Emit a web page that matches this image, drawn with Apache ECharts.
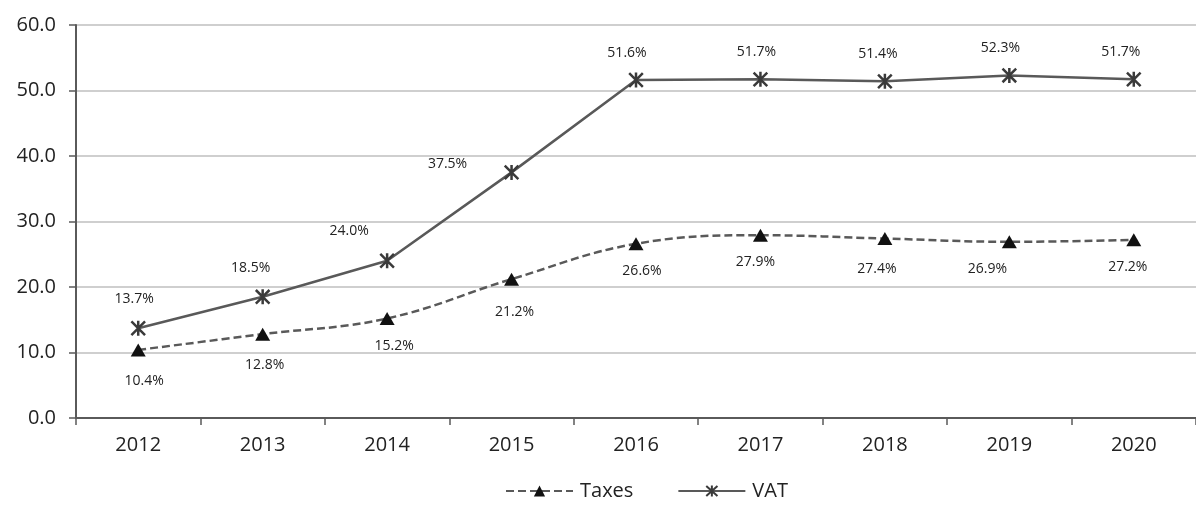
<!DOCTYPE html>
<html><head><meta charset="utf-8">
<script src="https://cdn.jsdelivr.net/npm/echarts@6/dist/echarts.min.js"></script>
<style>html,body{margin:0;padding:0;background:#fff}#c{width:1196px;height:506px}</style>
</head><body><div id="c"></div>
<script>
var categories = ['2012','2013','2014','2015','2016','2017','2018','2019','2020'];
var taxes = [10.4, 12.8, 15.2, 21.2, 26.6, 27.9, 27.4, 26.9, 27.2];
var vat = [13.7, 18.5, 24.0, 37.5, 51.6, 51.7, 51.4, 52.3, 51.7];
var yTicks = [0, 10, 20, 30, 40, 50, 60];

// label offsets from the marker centre (style only)
var taxesLabelOffset = [[6,31],[2,31],[7,28],[3,33],[6,27],[-5,27],[-8,30],[-22,27],[-6,27]];
var vatLabelOffset = [[-4,-29],[-12,-29],[-38,-30],[-64,-8],[-9,-27],[-4,-27],[-7,-27],[-9,-27],[-13,-27]];

var FONT = '"Open Sans", sans-serif';
var starPath = 'path://M0,0L10,10M10,0L0,10M5,-0.5L5,10.5';

function mk(vals, offs) {
  return vals.map(function (v, i) {
    return { value: v, label: { offset: offs[i] } };
  });
}

var chart = echarts.init(document.getElementById('c'));
chart.setOption({
  backgroundColor: '#fff',
  animation: false,
  grid: { left: 76, width: 1132, top: 25, height: 393 },
  xAxis: {
    type: 'category', data: categories, boundaryGap: true,
    axisLine: { lineStyle: { color: '#5a5a5a', width: 2 } },
    axisTick: { show: true, length: 7, lineStyle: { color: '#5a5a5a', width: 1.5 } },
    axisLabel: { color: '#222', fontSize: 20, fontFamily: FONT, margin: 17 }
  },
  yAxis: {
    type: 'value', min: yTicks[0], max: yTicks[yTicks.length - 1], interval: 10,
    axisLine: { show: true, lineStyle: { color: '#5a5a5a', width: 2 } },
    axisTick: { show: true, length: 7, inside: false, lineStyle: { color: '#5a5a5a', width: 1.5 } },
    splitLine: { lineStyle: { color: '#cfcfcf', width: 2 } },
    axisLabel: { color: '#222', fontSize: 20, fontFamily: FONT, margin: 20,
      formatter: function (v) { return v.toFixed(1); } }
  },
  legend: {
    bottom: 0, left: 500, itemWidth: 67, itemHeight: 14, itemGap: 44,
    textStyle: { color: '#222', fontSize: 20, fontFamily: FONT, padding: [0, 0, 0, 2] },
    data: ['Taxes', 'VAT']
  },
  series: [
    {
      name: 'Taxes', type: 'line', smooth: 0.4,
      data: mk(taxes, taxesLabelOffset),
      symbol: 'triangle', symbolSize: [15, 13],
      itemStyle: { color: '#111' },
      lineStyle: { color: '#595959', width: 2.5, type: [8, 4] },
      label: { show: true, position: 'inside', color: '#222', fontSize: 14, fontFamily: FONT,
        formatter: function (p) { return p.value.toFixed(1) + '%'; } }
    },
    {
      name: 'VAT', type: 'line', smooth: false,
      data: mk(vat, vatLabelOffset),
      symbol: starPath, symbolSize: 15, symbolKeepAspect: true,
      itemStyle: { color: 'none', borderColor: '#3a3a3a', borderWidth: 2.5 },
      lineStyle: { color: '#595959', width: 2.5 },
      label: { show: true, position: 'inside', color: '#222', fontSize: 14, fontFamily: FONT,
        formatter: function (p) { return p.value.toFixed(1) + '%'; } }
    }
  ]
});
</script></body></html>
